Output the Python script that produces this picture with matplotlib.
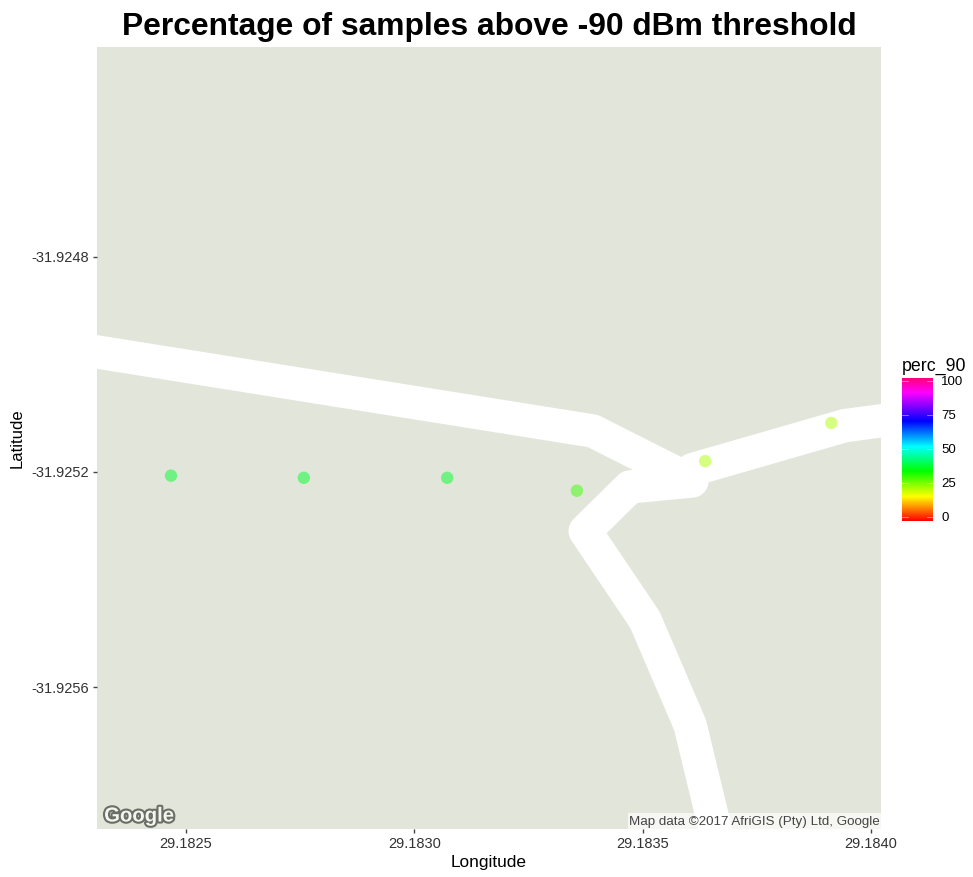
import numpy as np
import matplotlib
matplotlib.use("Agg")
import matplotlib.pyplot as plt
import matplotlib.patheffects as pe
from matplotlib.colors import LinearSegmentedColormap

plt.rcParams['font.family'] = ['Liberation Sans', 'DejaVu Sans']

W, H = 973, 877
lon = [29.182467, 29.182758, 29.183072, 29.183356, 29.183637, 29.183913]
lat = [-31.925207, -31.925211, -31.925211, -31.925235, -31.925180, -31.925109]
perc_90 = [38, 38, 38, 31, 23, 23]

x_ticks = [29.1825, 29.1830, 29.1835, 29.1840]
x_tick_labels = ['29.1825', '29.1830', '29.1835', '29.1840']
y_ticks = [-31.9248, -31.9252, -31.9256]
y_tick_labels = ['-31.9248', '-31.9252', '-31.9256']
legend_ticks = [0, 25, 50, 75, 100]

road_a_lon = [29.182290, 29.183391, 29.183582]
road_a_lat = [-31.924975, -31.925124, -31.925206]
road_b_lon = [29.184040, 29.183943, 29.183608]
road_b_lat = [-31.925103, -31.925114, -31.925196]
road_c_lon = [29.183608, 29.183472, 29.183374, 29.183505, 29.183604, 29.183665]
road_c_lat = [-31.925217, -31.925228, -31.925310, -31.925475, -31.925671, -31.925885]

rainbow = [(0.0, '#ff0000'), (0.17, '#ffff00'), (0.35, '#00ff00'), (0.52, '#00ffff'),
           (0.70, '#0000ff'), (0.90, '#ff00ff'), (1.0, '#ff0080')]
cmap = LinearSegmentedColormap.from_list('perc', rainbow)

fig = plt.figure(figsize=(W / 100, H / 100), dpi=100, facecolor='white')

def box(l, t, r, b):
    return [l / W, 1 - b / H, (r - l) / W, (b - t) / H]

ax = fig.add_axes(box(97, 47, 881, 829))
ax.set_facecolor('#e2e6da')
ax.set_xlim(29.182305, 29.184022)
ax.set_ylim(-31.925864, -31.92441)
for s in ax.spines.values():
    s.set_visible(False)

for rx, ry in [(road_a_lon, road_a_lat), (road_b_lon, road_b_lat), (road_c_lon, road_c_lat)]:
    ax.plot(rx, ry, color='white', lw=24, solid_joinstyle='round', solid_capstyle='round', zorder=2)

ax.scatter(lon, lat, c=perc_90, cmap=cmap, vmin=0, vmax=100, s=80, alpha=0.5, linewidths=0, zorder=3)

ax.set_xticks(x_ticks, x_tick_labels)
ax.set_yticks(y_ticks, y_tick_labels)
ax.tick_params(length=3, width=1, color='#444444', labelcolor='#333333', labelsize=10.5, pad=2.5)
ax.set_xlabel('Longitude', fontsize=12.4, labelpad=3, color='black')
ax.set_ylabel('Latitude', fontsize=12, labelpad=5, color='black')

fig.text(489 / W, 1 - 27 / H, 'Percentage of samples above -90 dBm threshold',
         ha='center', va='center', fontsize=22.9, fontweight='bold', color='black')

fig.text(139 / W, 1 - 816 / H, 'Google', ha='center', va='center', fontsize=14.6, fontweight='bold',
         color='#f4f4f0', zorder=6,
         path_effects=[pe.withStroke(linewidth=3, foreground='#6a6e64')])

fig.patches.append(plt.Rectangle((628 / W, 1 - 829 / H), 253 / W, 16 / H, transform=fig.transFigure,
                                 facecolor='white', alpha=0.7, edgecolor='none', zorder=5))
fig.text(754 / W, 1 - 821.5 / H, 'Map data ©2017 AfriGIS (Pty) Ltd, Google', ha='center', va='center',
         fontsize=9.6, color='#444444', zorder=6)

cax = fig.add_axes(box(902, 378, 933, 521))
gradient = np.linspace(0, 100, 256).reshape(-1, 1)
cax.imshow(gradient, cmap=cmap, vmin=0, vmax=100, origin='lower', aspect='auto', extent=(0, 1, -3, 102))
cax.set_xlim(0, 1)
cax.set_ylim(-3, 102)
cax.set_xticks([])
cax.yaxis.tick_right()
cax.set_yticks(legend_ticks, [str(v) for v in legend_ticks])
cax.tick_params(axis='y', length=0, labelsize=9.5, pad=6, labelcolor='black')
for v in legend_ticks:
    cax.plot([0, 0.2], [v, v], color='white', lw=0.5, alpha=0.6)
    cax.plot([0.8, 1], [v, v], color='white', lw=0.5, alpha=0.6)
for s in cax.spines.values():
    s.set_visible(False)
fig.text(902 / W, 1 - 366 / H, 'perc_90', ha='left', va='center', fontsize=12.8, color='black')

fig.savefig('out.png', dpi=100)
